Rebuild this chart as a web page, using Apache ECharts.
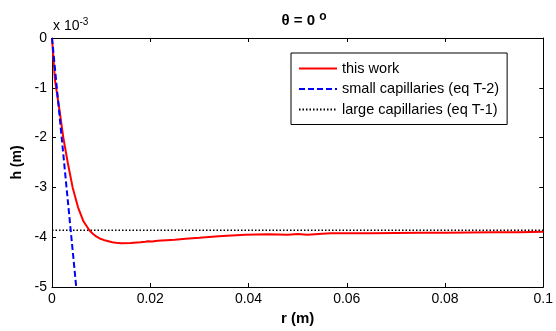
<!DOCTYPE html>
<html><head><meta charset="utf-8">
<style>html,body{margin:0;padding:0;background:#fff}#c{width:556px;height:331px}</style>
<script src="https://cdn.jsdelivr.net/npm/echarts@6/dist/echarts.min.js"></script>
</head><body><div id="c"></div>
<script>
// h values in units of 1e-3 m
const rThis = [0, 0.0006, 0.0016, 0.0023, 0.0032, 0.0042, 0.0053, 0.0064, 0.0076, 0.0083, 0.009, 0.0097, 0.0105, 0.0115, 0.0123, 0.013, 0.014, 0.016, 0.018, 0.019, 0.0195, 0.0204, 0.0215, 0.025, 0.0272, 0.030, 0.0339, 0.0393, 0.044, 0.048, 0.050, 0.052, 0.055, 0.0567, 0.060, 0.065, 0.070, 0.075, 0.080, 0.085, 0.090, 0.095, 0.100];
const hThis = [0, -0.84, -1.5, -2.0, -2.5, -3.0, -3.4, -3.68, -3.86, -3.93, -3.985, -4.025, -4.055, -4.08, -4.10, -4.11, -4.12, -4.115, -4.10, -4.09, -4.08, -4.085, -4.07, -4.05, -4.03, -4.01, -3.98, -3.95, -3.94, -3.95, -3.935, -3.95, -3.93, -3.92, -3.92, -3.92, -3.915, -3.91, -3.91, -3.905, -3.90, -3.90, -3.89];
const rSmall = [0, 0.00493];
const hSmall = [0, -5];
const rLarge = [0, 0.1];
const hLarge = [-3.86, -3.86];
const xTicks = [0, 0.02, 0.04, 0.06, 0.08, 0.1];
const yTicks = [0, -1, -2, -3, -4, -5];

const zip = (a, b) => a.map((v, i) => [v, b[i]]);
const F = 'Liberation Sans, Arial, sans-serif';
const chart = echarts.init(document.getElementById('c'));
const axCommon = {
  axisLine: {show: true, onZero: false, lineStyle: {color: '#000', width: 1}},
  axisTick: {show: true, inside: true, length: 4, lineStyle: {color: '#000'}},
  splitLine: {show: false}
};
chart.setOption({
  animation: false,
  title: {
    text: 'θ = 0 {s|o}', left: 299, top: 6, textAlign: 'center',
    textStyle: {fontFamily: F, fontSize: 15, fontWeight: 'bold', color: '#000',
      rich: {s: {fontFamily: F, fontSize: 12, fontWeight: 'bold', verticalAlign: 'top', padding: [0,0,7,0], color: '#000'}}}
  },
  graphic: [{
    type: 'text', left: 53, top: 17,
    style: {text: 'x 10{s|-3}', fontFamily: F, fontSize: 14, fill: '#000',
      rich: {s: {fontFamily: F, fontSize: 10, padding: [0,0,9,0], fill: '#000'}}}
  }],
  legend: {
    orient: 'vertical', left: 291, top: 53, 
    padding: [7.5, 8, 7, 7], itemGap: 4.5, itemWidth: 38, itemHeight: 14,
    borderColor: '#000', borderWidth: 1, backgroundColor: '#fff',
    itemStyle: {opacity: 0},
    textStyle: {fontFamily: F, fontSize: 14.5, lineHeight: 16, color: '#000'},
    data: ['this work', 'small capillaries (eq T-2)', 'large capillaries (eq T-1)']
  },
  grid: {left: 52, right: 9, top: 38, bottom: 42, containLabel: false},
  xAxis: [Object.assign({}, axCommon, {
    type: 'value', min: 0, max: 0.1, interval: 0.02, position: 'bottom',
    name: 'r (m)', nameLocation: 'middle', nameGap: 24,
    nameTextStyle: {fontFamily: F, fontSize: 15, fontWeight: 'bold', color: '#000'},
    axisLabel: {fontFamily: F, fontSize: 14, color: '#000', margin: 5, formatter: v => String(+v.toFixed(2))}
  }), Object.assign({}, axCommon, {
    type: 'value', min: 0, max: 0.1, interval: 0.02, position: 'top', axisLabel: {show: false}
  })],
  yAxis: [Object.assign({}, axCommon, {
    type: 'value', min: -5, max: 0, interval: 1, position: 'left',
    name: 'h (m)', nameLocation: 'middle', nameGap: 22, nameRotate: 90,
    nameTextStyle: {fontFamily: F, fontSize: 14, fontWeight: 'bold', color: '#000'},
    axisLabel: {fontFamily: F, fontSize: 14, color: '#000', margin: 5}
  }), Object.assign({}, axCommon, {
    type: 'value', min: -5, max: 0, interval: 1, position: 'right', axisLabel: {show: false}
  })],
  series: [
    {name: 'this work', type: 'line', data: zip(rThis, hThis), symbol: 'none',
      lineStyle: {color: '#ff0000', width: 2}, itemStyle: {color: '#ff0000'}, z: 3},
    {name: 'small capillaries (eq T-2)', type: 'line', data: zip(rSmall, hSmall), symbol: 'none',
      lineStyle: {color: '#0000ff', width: 2, type: [6, 3]}, itemStyle: {color: '#0000ff'}, z: 4},
    {name: 'large capillaries (eq T-1)', type: 'line', data: zip(rLarge, hLarge), symbol: 'none',
      lineStyle: {color: '#000', width: 1.5, type: [1.5, 2]}, itemStyle: {color: '#000'}, z: 2}
  ]
});
</script></body></html>
